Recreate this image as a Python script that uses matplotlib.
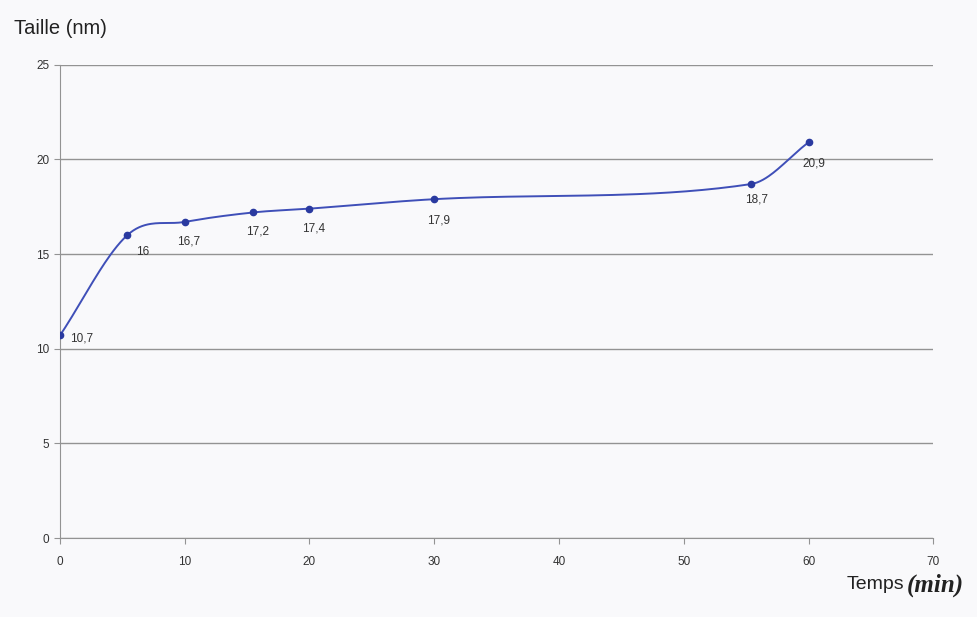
import numpy as np
import matplotlib
matplotlib.use('Agg')
import matplotlib.pyplot as plt

# temps (min) et taille (nm)
temps = [0, 5.4, 10, 15.5, 20, 30, 55.4, 60]
taille = [10.7, 16.0, 16.7, 17.2, 17.4, 17.9, 18.7, 20.9]
labels = ['10,7', '16', '16,7', '17,2', '17,4', '17,9', '18,7', '20,9']
xticks = [0, 10, 20, 30, 40, 50, 60, 70]
yticks = [0, 5, 10, 15, 20, 25]


def smooth(x, y, n=40):
    # courbe lissée (Hermite, pentes par différences centrées)
    x = np.asarray(x, float)
    y = np.asarray(y, float)
    m = np.empty_like(y)
    m[1:-1] = (y[2:] - y[:-2]) / (x[2:] - x[:-2])
    m[0] = (y[1] - y[0]) / (x[1] - x[0])
    m[-1] = (y[-1] - y[-2]) / (x[-1] - x[-2])
    t = np.linspace(0, 1, n)
    h00 = 2 * t ** 3 - 3 * t ** 2 + 1
    h10 = t ** 3 - 2 * t ** 2 + t
    h01 = -2 * t ** 3 + 3 * t ** 2
    h11 = t ** 3 - t ** 2
    xs, ys = [], []
    for i in range(len(x) - 1):
        h = x[i + 1] - x[i]
        xs.extend(x[i] + h * t)
        ys.extend(h00 * y[i] + h10 * h * m[i] + h01 * y[i + 1] + h11 * h * m[i + 1])
    return xs, ys


plt.rcParams['font.family'] = ['Liberation Sans', 'DejaVu Sans']

fig = plt.figure(figsize=(9.78, 6.17), dpi=100, facecolor='#f9f9fb')
ax = fig.add_axes([0.0613, 0.128, 0.893, 0.767])
ax.set_facecolor('#f9f9fb')

sx, sy = smooth(temps, taille)
ax.plot(sx, sy, color='#3f4fb8', lw=1.4, zorder=3)
ax.plot(temps, taille, 'o', color='#2a3aa0', ms=4.5, zorder=4)

offsets = [(7, -2), (6, -12), (3, -14), (3, -14), (3, -14), (3, -15), (4, -11), (4, -15)]
for x, y, lab, off in zip(temps, taille, labels, offsets):
    ax.annotate(lab, (x, y), xytext=off, textcoords='offset points',
                fontsize=8.5, color='#333333', ha='left' if off[0] > 5 else 'center',
                va='center')

ax.set_xlim(0, 70)
ax.set_ylim(0, 25)
ax.set_xticks(xticks)
ax.set_yticks(yticks)
ax.grid(axis='y', color='#939393', lw=1.0)
ax.set_axisbelow(True)
for s in ['top', 'right']:
    ax.spines[s].set_visible(False)
for s in ['left', 'bottom']:
    ax.spines[s].set_color('#939393')
ax.tick_params(axis='both', colors='#939393', labelcolor='#333333', labelsize=8.5,
               length=4, width=0.8)
ax.tick_params(axis='x', pad=9)

fig.text(0.014, 0.953, 'Taille (nm)', fontsize=14.5, color='#222222', va='center')
fig.text(0.866, 0.052, 'Temps', fontsize=14, color='#222222', va='center')
fig.text(0.927, 0.052, '(min)', fontsize=18, color='#222222', va='center',
         family=['Liberation Serif', 'DejaVu Serif'], weight='bold', style='italic')

fig.savefig('out.png', dpi=100, facecolor=fig.get_facecolor())
